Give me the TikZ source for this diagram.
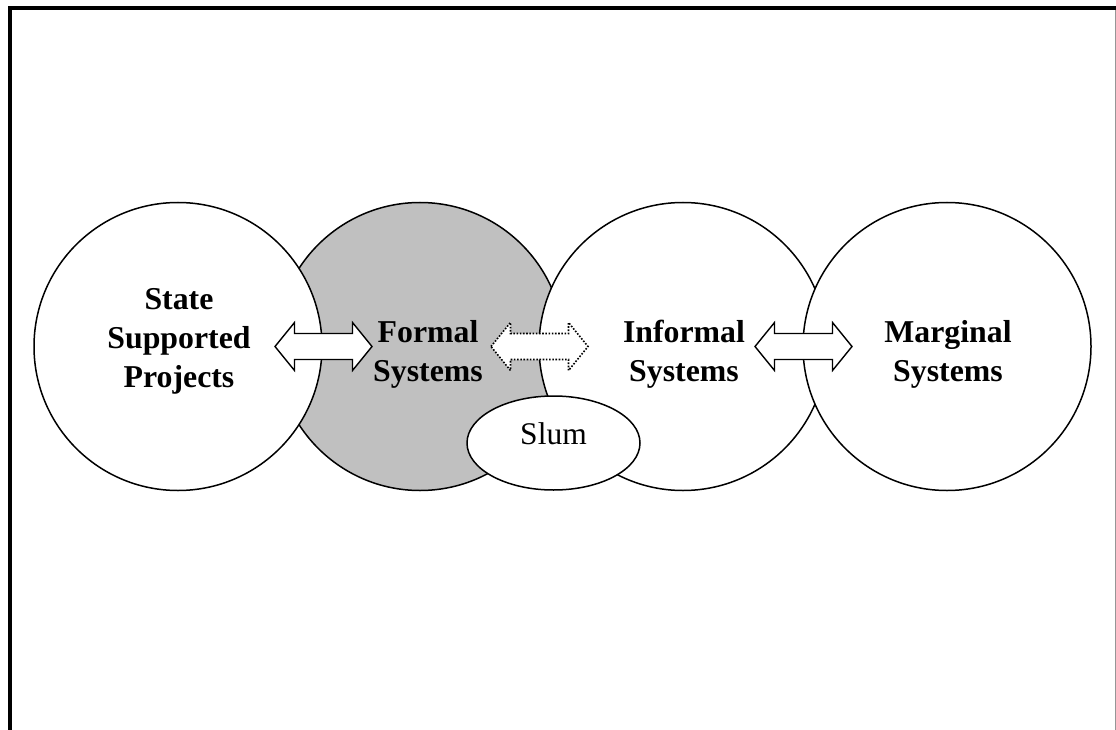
\documentclass[tikz,border=0pt]{standalone}
\usepackage{fontspec}
\setmainfont{Liberation Serif}
\usetikzlibrary{shapes.geometric}
\definecolor{formalgray}{RGB}{192,192,192}
\definecolor{edgegray}{RGB}{150,150,150}
\tikzset{
  sys/.style={circle, draw=black, line width=1.5pt, fill=white, minimum size=288pt, inner sep=0pt},
  systext/.style={align=center, font=\bfseries\fontsize{31.8}{39}\selectfont, inner sep=0pt},
  slumshape/.style={ellipse, draw=black, line width=1.5pt, fill=white, minimum width=173pt, minimum height=94pt, inner sep=0pt},
  slumtext/.style={font=\fontsize{31.5}{38}\selectfont, inner sep=0pt},
  dblarrow/.pic={
    \draw[pic actions] (-48.5,0) -- (-29,-24) -- (-29,-13) -- (29,-13) -- (29,-24) -- (48.5,0)
      -- (29,24) -- (29,13) -- (-29,13) -- (-29,24) -- cycle;
  },
  solidarrow/.style={draw=black, fill=white, line width=1.4pt, line join=miter},
  dottedarrow/.style={draw=black, fill=white, line width=1.6pt, dash pattern=on 1.6pt off 1.6pt},
  frameline/.style={line width=4pt, black},
}
\begin{document}
\begin{tikzpicture}[x=1pt, y=-1pt]
\useasboundingbox (0,0) rectangle (1116,730);
\fill[white] (0,0) rectangle (1116,730);
% frame
\draw[frameline] (9.5,730) -- (9.5,8) -- (1116,8);
\draw[edgegray, line width=1.2pt] (1115.3,10) -- (1115.3,730);
% circles
\node[sys, fill=formalgray] (formal) at (420,346.5) {};
\node[sys] (state) at (178,346.5) {};
\node[sys] (informal) at (683,346.5) {};
\node[sys] (marginal) at (947,346.5) {};
% slum
\node[slumshape] (slum) at (553.5,443) {};
\node[slumtext] (slumlabel) at (553.5,434) {Slum};
% labels
\node[systext] (statelabel) at (179,341.5) {State\\Supported\\Projects};
\node[systext] (formallabel) at (428,354.7) {Formal\\Systems};
\node[systext] (informallabel) at (684,354.7) {Informal\\Systems};
\node[systext] (marginallabel) at (948,354.7) {Marginal\\Systems};
% arrows
\pic[solidarrow] at (323.5,346.5) {dblarrow};
\pic[dottedarrow] at (539.5,346.5) {dblarrow};
\pic[solidarrow] at (803.5,346.5) {dblarrow};
\end{tikzpicture}
\end{document}
